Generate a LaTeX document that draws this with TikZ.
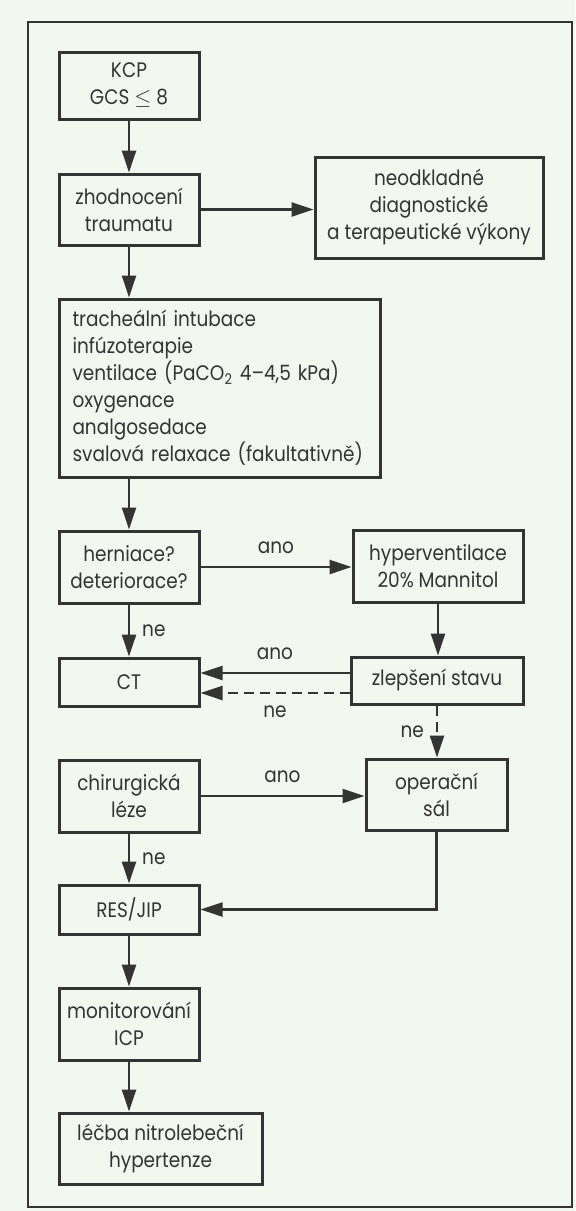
\documentclass[tikz,border=0pt]{standalone}
\usepackage{fontspec}
\setmainfont{Poppins}[FakeStretch=0.88]
\usetikzlibrary{arrows.meta}
\definecolor{paper}{RGB}{242,247,240}
\definecolor{ink}{RGB}{52,52,52}

\begin{document}
\begin{tikzpicture}[x=0.5pt,y=-0.5pt,
  box/.style={draw=ink,line width=1.5pt,text=ink,align=center,inner sep=0pt,font=\fontsize{10.5}{13.5}\selectfont},
  arr/.style={draw=ink,line width=1.2pt,-{Triangle[length=11pt,width=7pt]}},
  lbl/.style={text=ink,inner sep=2pt,font=\fontsize{10.5}{13.5}\selectfont}]
\fill[paper] (0,0) rectangle (575,1211);
\draw[ink,line width=1.4pt] (28,22) rectangle (572,1207);
\node[box,minimum width=70pt,minimum height=33.5pt] (kcp) at (129,85.5) {KCP\\GCS $\leq$ 8};
\node[box,minimum width=70pt,minimum height=35.5pt] (zhod) at (129,209.5) {zhodnocení\\traumatu};
\node[box,minimum width=114pt,minimum height=50.5pt] (neod) at (429,207.5) {neodkladné\\diagnostické\\a terapeutické výkony};
\node[box,align=left,text width=147pt,inner xsep=6.75pt,minimum height=89pt] (trach) at (219.5,388) {tracheální intubace\\infúzoterapie\\ventilace (PaCO\textsubscript{2} 4--4,5 kPa)\\oxygenace\\analgosedace\\svalová relaxace (fakultativně)};
\node[box,minimum width=70pt,minimum height=36pt] (hern) at (129,567) {herniace?\\deteriorace?};
\node[box,minimum width=85pt,minimum height=36pt] (hyper) at (438,566) {hyperventilace\\20\% Mannitol};
\node[box,minimum width=70pt,minimum height=24pt] (ct) at (129,682) {CT};
\node[box,minimum width=86pt,minimum height=23.5pt] (zlep) at (437,680.5) {zlepšení stavu};
\node[box,minimum width=70pt,minimum height=36pt] (chir) at (129,796) {chirurgická\\léze};
\node[box,minimum width=70.5pt,minimum height=35.5pt] (oper) at (436.5,794.5) {operační\\sál};
\node[box,minimum width=70pt,minimum height=24.5pt] (res) at (129,909.5) {RES/JIP};
\node[box,minimum width=70pt,minimum height=36pt] (mon) at (129,1024) {monitorování\\ICP};
\node[box,minimum width=101.5pt,minimum height=35.5pt] (lecba) at (160.5,1148.5) {léčba nitrolebeční\\hypertenze};
\coordinate (za) at ([yshift=3.75pt]zlep.west);
\coordinate (zn) at ([yshift=-6.25pt]zlep.west);
\draw[arr] (kcp) -- (zhod);
\draw[arr] (zhod.east) -- (zhod.east -| neod.west);
\draw[arr] (zhod.south) -- (zhod.south |- trach.north);
\draw[arr] (trach.south -| hern.north) -- (hern.north);
\draw[arr] (hern.east) -- (hern.east -| hyper.west) node[lbl,midway,above=4pt]{ano};
\draw[arr] (hern) -- (ct) node[lbl,midway,right=4pt]{ne};
\draw[arr] (hyper.south) -- (hyper.south |- zlep.north);
\draw[arr] (za) -- (za -| ct.east) node[lbl,midway,above=4pt]{ano};
\draw[arr,dashed,dash pattern=on 5pt off 3pt] (zn) -- (zn -| ct.east) node[lbl,midway,below=4pt]{ne};
\draw[arr,dashed,dash pattern=on 5pt off 3pt] (zlep.south) -- (zlep.south |- oper.north) node[lbl,midway,left=4pt]{ne};
\draw[arr] (chir.east) -- (chir.east -| oper.west) node[lbl,midway,above=4pt]{ano};
\draw[arr] (chir) -- (res) node[lbl,midway,right=4pt]{ne};
\draw[arr] (oper.south) |- (res.east);
\draw[arr] (res) -- (mon);
\draw[arr] (mon.south) -- (mon.south |- lecba.north);
\end{tikzpicture}
\end{document}
